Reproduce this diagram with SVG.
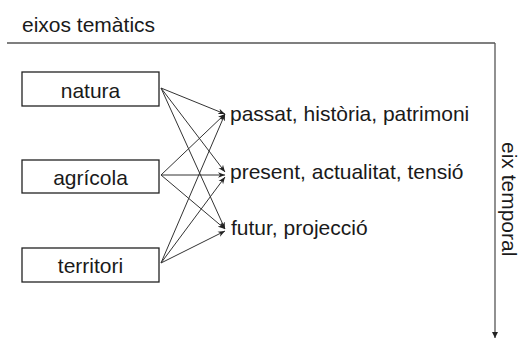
<svg xmlns="http://www.w3.org/2000/svg" width="520" height="340" viewBox="0 0 520 340">
<style>
text{font-family:"Liberation Sans",Arial,sans-serif;font-size:21px;fill:#1a1a1a}
.box{fill:#fff;stroke:#222;stroke-width:1.3}
.c{stroke:#333;stroke-width:1;fill:none;marker-end:url(#ah)}
.axis{stroke:#555;stroke-width:1.3;fill:none}
</style>
<defs>
<marker id="ah" viewBox="0 0 10 10" refX="10" refY="5" markerWidth="7" markerHeight="7" markerUnits="userSpaceOnUse" orient="auto">
<path d="M0,1 L10,5 L0,9 L3,5 Z" fill="#222"/>
</marker>
<marker id="ahv" viewBox="0 0 10 10" refX="10" refY="5" markerWidth="7" markerHeight="6" markerUnits="userSpaceOnUse" orient="auto">
<path d="M0,0 L10,5 L0,10 Z" fill="#222"/>
</marker>
</defs>
<g id="axes">
<text x="22" y="32">eixos temàtics</text>
<path class="axis" d="M7,43 H495"/>
<path class="axis" d="M495,43 V338" marker-end="url(#ahv)"/>
<text transform="translate(502,142) rotate(90)">eix temporal</text>
</g>
<g id="natura"><rect class="box" x="22" y="72" width="137" height="34"/><text x="90.5" y="98" text-anchor="middle">natura</text></g>
<g id="agricola"><rect class="box" x="22" y="160" width="137" height="33"/><text x="90.5" y="185" text-anchor="middle">agrícola</text></g>
<g id="territori"><rect class="box" x="22" y="248" width="137" height="34"/><text x="90.5" y="273" text-anchor="middle">territori</text></g>
<g id="passat"><text x="230" y="121">passat, història, patrimoni</text></g>
<g id="present"><text x="230" y="179">present, actualitat, tensió</text></g>
<g id="futur"><text x="231" y="235">futur, projecció</text></g>
<g id="connectors">
<path class="c" d="M161,88 L225,114"/>
<path class="c" d="M161,88 L225,172"/>
<path class="c" d="M161,88 L225,229"/>
<path class="c" d="M161,175 L225,114"/>
<path class="c" d="M161,175 L225,175"/>
<path class="c" d="M161,175 L225,229"/>
<path class="c" d="M161,263 L225,114"/>
<path class="c" d="M161,263 L225,177"/>
<path class="c" d="M161,263 L225,231"/>
</g>
</svg>
